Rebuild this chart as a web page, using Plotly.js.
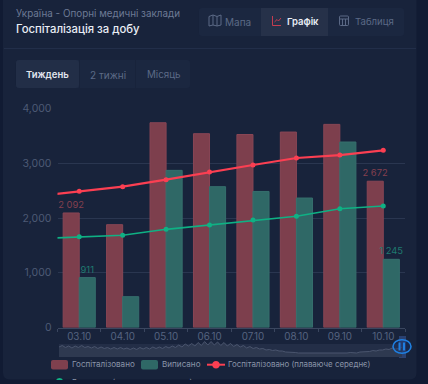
<!DOCTYPE html>
<html><head><meta charset="utf-8">
<script src="https://cdn.plot.ly/plotly-3.0.1.min.js"></script>
<style>html,body{margin:0;padding:0;background:#111b33;overflow:hidden}#c{width:428px;height:380px}</style>
</head><body><div id="c"></div>
<script>
var dates=['03.10','04.10','05.10','06.10','07.10','08.10','09.10','10.10'];
var hospitalized=[2092,1878,3740,3540,3525,3570,3710,2672];
var discharged=[911,563,2870,2572,2485,2365,3388,1245];
var hospLabels=['2 092','','','','','','','2 672'];
var discLabels=['911','','','','','','','1 245'];
// moving averages; the first value belongs to the day before the visible window
var hospAvg=[2400,2488,2572,2700,2840,2968,3096,3150,3236];
var discAvg=[1622,1658,1684,1793,1872,1963,2031,2170,2219];
var overview=[10,11.5,9.5,11,9,11,9.5,11.5,9.5,10.5,9,10.5,8.5,10,8.5,9.5,8,9.5,8,9.5,8,9,7.5,9,7.5,9.5,8,9.5,8,10,8.5,10,8.5,10.5,9,11,9.5,12,10,13,11,13.5,11,14.5,11.5,15.5,12,15.5,12,15,11.5,14.5,11,13.5,10.5,12.5,10,11.5,9,10.5,8.5,9.5,8,8.5,7,7.5,6.5,7,6,6,5,5,4.5,4.5,4,4,3.5,3.5,3.5,3.5,3.5,3.5,3.5,3.5,3.5,3.5,3.5,4,4,4,4.5,4.5,4,5,5,5.5,5.5,6.5,6,7,7,8,7.5,9,8,8.5,9.5];

var W=428,H=380;
var fx=function(x){return x/W}, fy=function(y){return 1-y/H};
function rect(x0,y0,x1,y1,fill){return {type:'rect',xref:'paper',yref:'paper',x0:fx(x0),x1:fx(x1),y0:fy(y0),y1:fy(y1),fillcolor:fill,line:{width:0},layer:'below'}}
function path(cmds,fill,stroke,w,layer){
  var s=cmds.map(function(c){var o=c[0];for(var i=1;i<c.length;i+=2){o+=(i>1?' ':'')+fx(c[i]).toFixed(5)+','+fy(c[i+1]).toFixed(5)}return o}).join(' ');
  return {type:'path',xref:'paper',yref:'paper',path:s,fillcolor:fill||'rgba(0,0,0,0)',line:{color:stroke||'rgba(0,0,0,0)',width:stroke?(w||1):0},layer:layer||'below'};
}
function rr(x0,y0,x1,y1,r,fill,stroke){return path([['M',x0+r,y0],['L',x1-r,y0],['Q',x1,y0,x1,y0+r],['L',x1,y1-r],['Q',x1,y1,x1-r,y1],['L',x0+r,y1],['Q',x0,y1,x0,y1-r],['L',x0,y0+r],['Q',x0,y0,x0+r,y0],['Z']],fill,stroke)}
function ell(cx,cy,rx,ry,fill,stroke,w,layer){var k=.5523;return path([['M',cx-rx,cy],['C',cx-rx,cy-k*ry,cx-k*rx,cy-ry,cx,cy-ry],['C',cx+k*rx,cy-ry,cx+rx,cy-k*ry,cx+rx,cy],['C',cx+rx,cy+k*ry,cx+k*rx,cy+ry,cx,cy+ry],['C',cx-k*rx,cy+ry,cx-rx,cy+k*ry,cx-rx,cy],['Z']],fill,stroke,w,layer)}
function label(t,x,y,size,color,weight,anchor){return {xref:'paper',yref:'paper',x:fx(x),y:fy(y),text:t,showarrow:false,xanchor:anchor||'left',yanchor:'middle',borderpad:0,borderwidth:0,font:{family:'Inter, sans-serif',size:size,color:color,weight:weight||400}}}

var shapes=[
  rr(3,-8,416.5,379.5,7,'#18233b'),
  rect(4,48,416,49,'#222e49'),
  rr(199,8,404,36,3,'#1b2740'),
  rect(261,8,328,36,'#263149'),
  rr(16,60,190,88,3,'#1b2740'),
  rr(16,60,79,88,3,'#222e47'),
  rect(79,60,80,88,'#18233b'),
  rect(135,60,136,88,'#18233b'),
  // map icon
  path([['M',209,16.5],['L',213,15],['L',217,16.5],['L',221,15],['L',221,25],['L',217,26],['L',213,25],['L',209,26],['Z'],['M',213,15],['L',213,25],['M',217,16.5],['L',217,26]],null,'#5c6a86',1),
  // chart icon
  path([['M',272.5,16],['L',272.5,25.5],['L',281,25.5],['M',274.5,22],['L',277,19.5],['L',278.5,21],['L',281,18]],null,'#c63d50',1),
  // table icon
  rr(339.5,16,348.5,25.5,1,'rgba(0,0,0,0)','#5c6a86'),
  path([['M',339.5,19],['L',348.5,19],['M',342.5,19],['L',342.5,25.5],['M',345.5,19],['L',345.5,25.5]],null,'#5c6a86',1),
  // overview strip
  rect(59,344,406,357,'#232e47'),
  rect(399,336,406,358,'#2b4170'),
  // legend keys
  rr(51,360,68,369.5,2,'#7f404e'),
  rr(141,360,158,369.5,2,'#2f6866'),
  path([['M',207,364.7],['L',225,364.7]],null,'#fb3f52',2),
  ell(216,364.7,3.8,3.8,'#fb3f52'),
  ell(59.5,381.8,3.8,3.8,'#0fb184'),
  // overview handle
  ell(402,346.5,9,6.8,'rgba(20,50,110,.35)','#1f7fe0',1.6,'above'),
  path([['M',399.5,342.5],['L',399.5,350.5]],null,'#1f7fe0',2,'above'),
  path([['M',404,342.5],['L',404,350.5]],null,'#1f7fe0',2,'above')
];
var annotations=[
  label('Україна - Опорні медичні заклади',16,13.5,9.85,'#6d7a95'),
  label('Госпіталізація за добу',16,29,11.3,'#e9edf5',500),
  label('Мапа',224.5,22,10,'#5c6a86'),
  label('Графік',286.5,22,9.5,'#e9edf5',600),
  label('Таблиця',354.5,22,9.6,'#5c6a86'),
  label('Тиждень',26,74.5,9.5,'#e2e6ef',600),
  label('2 тижні',89.5,74.5,10,'#5c6a86'),
  label('Місяць',146.5,74.5,9.8,'#5c6a86'),
  label('Госпіталізовано',72,364.3,8.1,'#8a94a8'),
  label('Виписано',162,364.3,8.1,'#8a94a8'),
  label('Госпіталізовано (плаваюче середнє)',228,364.3,7.9,'#8a94a8'),
  label('Виписано (плаваюче середнє)',72,381.5,8,'#8a94a8')
];
var idx=dates.map(function(_,i){return i});
var avgX=[-1].concat(idx);
var data=[
 {type:'bar',name:'Госпіталізовано',x:idx,y:hospitalized,text:hospLabels,textposition:'outside',cliponaxis:false,constraintext:'none',
  textfont:{family:'Inter, sans-serif',size:9.4,color:'#84404f'},marker:{color:'#7d3f4d',line:{color:'#884655',width:1}},hoverinfo:'skip'},
 {type:'bar',name:'Виписано',x:idx,y:discharged,text:discLabels,textposition:'outside',cliponaxis:false,constraintext:'none',
  textfont:{family:'Inter, sans-serif',size:9.4,color:'#1f7a70'},marker:{color:'#2f6866',line:{color:'#366f6d',width:1}},hoverinfo:'skip'},
 {type:'scatter',mode:'lines+markers',name:'Виписано (плаваюче середнє)',x:avgX,y:discAvg,line:{color:'#0fb184',width:1.6},marker:{color:'#0fb184',size:5},hoverinfo:'skip'},
 {type:'scatter',mode:'lines+markers',name:'Госпіталізовано (плаваюче середнє)',x:avgX,y:hospAvg,line:{color:'#fb3f52',width:2.2},marker:{color:'#fb3f52',size:5},hoverinfo:'skip'},
 {type:'scatter',mode:'lines',xaxis:'x2',yaxis:'y2',y:overview,fill:'tozeroy',fillcolor:'#2e3950',line:{color:'#4a556e',width:1},hoverinfo:'skip'}
];
var tickEdges=[-0.5,0.5,1.5,2.5,3.5,4.5,5.5,6.5,7.5];
var layout={
 width:W,height:H,margin:{l:0,r:0,t:0,b:0},paper_bgcolor:'rgba(0,0,0,0)',plot_bgcolor:'rgba(0,0,0,0)',
 showlegend:false,barmode:'group',bargap:0.26,bargroupgap:0,
 font:{family:'Inter, sans-serif'},
 xaxis:{domain:[fx(57.5),fx(405)],range:[-0.5,7.5],tickmode:'array',tickvals:idx,ticktext:dates,ticks:'',ticklabelstandoff:0,
   tickfont:{family:'Inter, sans-serif',size:9.8,color:'#566480'},showgrid:false,zeroline:false,showline:true,linecolor:'#3a465f',linewidth:1,anchor:'y',
   minor:{tickmode:'array',tickvals:tickEdges,ticks:'outside',ticklen:3,tickcolor:'#3a465f',tickwidth:1,showgrid:false}},
 yaxis:{domain:[fy(327.5),fy(108.5)],range:[0,4000],tickmode:'array',tickvals:[0,1000,2000,3000,4000],ticktext:['0','1,000','2,000','3,000','4,000'],ticks:'',
   tickfont:{family:'Inter, sans-serif',size:10.5,color:'#4d5a75'},ticklabelstandoff:5,gridcolor:'#2a3650',gridwidth:1,zeroline:false,showline:false},
 xaxis2:{domain:[fx(59),fx(402)],range:[0,overview.length-1],visible:false,anchor:'y2',fixedrange:true},
 yaxis2:{domain:[fy(357),fy(341)],range:[0,16],visible:false,anchor:'x2',fixedrange:true},
 shapes:shapes,annotations:annotations
};
Plotly.newPlot('c',data,layout,{displayModeBar:false,staticPlot:true});
</script></body></html>
